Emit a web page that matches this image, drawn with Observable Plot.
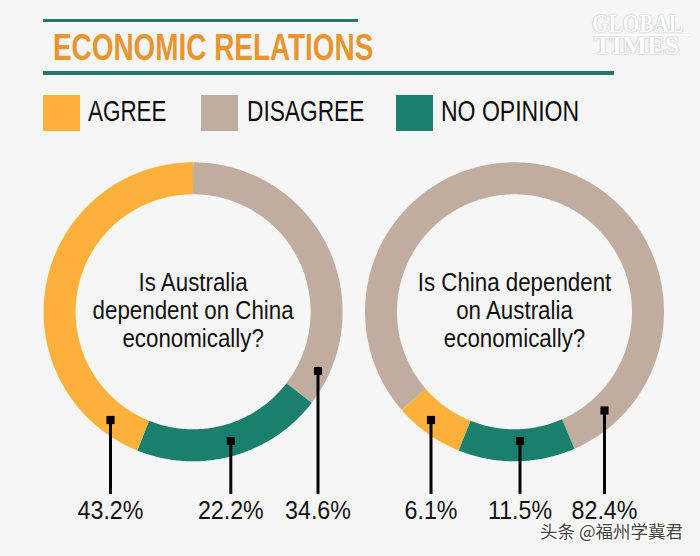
<!DOCTYPE html>
<html><head><meta charset="utf-8">
<script src="https://cdn.jsdelivr.net/npm/d3@7"></script>
<script src="https://cdn.jsdelivr.net/npm/@observablehq/plot@0.6"></script>
<style>
html,body{margin:0;padding:0;background:#f6f6f6;}
#page{position:relative;width:700px;height:556px;overflow:hidden;font-family:"Liberation Sans",sans-serif;}
#head{position:absolute;left:0;top:0;width:700px;height:140px;}
#head div{position:absolute;white-space:nowrap;}
.rule{background:#1f7a6a;left:43px;}
.sw{top:95px;width:36.5px;height:36px;}
.lg{top:92px;font-size:29.5px;line-height:38px;color:#0c0c0c;transform-origin:left center;}
#title{left:53px;top:25px;font-size:36px;line-height:46px;font-weight:700;color:#e8952f;transform-origin:left center;transform:scaleX(.775);}
.wm{font-family:"Liberation Serif",serif;color:#fff;text-shadow:0 0 2px #b5b5b5,0 0 1px #c5c5c5;font-size:25px;line-height:24px;font-weight:700;transform-origin:left center;}
#chart{position:absolute;left:0;top:140px;}
</style></head>
<body><div id="page">
<div id="head">
<div class="rule" style="top:19px;width:315px;height:3px"></div>
<div id="title">ECONOMIC RELATIONS</div>
<div class="rule" style="top:71px;width:571px;height:4px"></div>
<div class="wm" style="top:12px;left:592px;transform:scaleX(.85)">GLOBAL</div>
<div class="wm" style="top:34px;left:594px;transform:scaleX(1.06)">TIMES</div>
<div style="left:592px;top:33.5px;width:98px;height:2px;background:#fff;box-shadow:0 0 1px #c5c5c5"></div>
<div class="sw" style="left:43px;background:#fdb03a"></div><div class="lg" style="left:88px;transform:scaleX(.76)">AGREE</div>
<div class="sw" style="left:201px;background:#c1ad9f"></div><div class="lg" style="left:247px;transform:scaleX(.77)">DISAGREE</div>
<div class="sw" style="left:396px;background:#1a7f6d"></div><div class="lg" style="left:441px;transform:scaleX(.78)">NO OPINION</div>
</div>
<div id="chart"></div>
</div>
<script>
// Answers, in ring order going clockwise
const categories = ["Disagree", "No opinion", "Agree"];
const colors = ["#c1ad9f", "#1a7f6d", "#fdb03a"];
// Percentages printed on the chart
const leftLabels = ["34.6%", "22.2%", "43.2%"];
const rightLabels = ["82.4%", "11.5%", "6.1%"];
// Shares of the ring as actually drawn (percent)
const leftShares = [35.4, 20.7, 43.9];
const rightShares = [79.8, 12.7, 7.5];
// Question texts
const leftQuestion = ["Is Australia", "dependent on China", "economically?"];
const rightQuestion = ["Is China dependent", "on Australia", "economically?"];

const R = 133.5, ringWidth = 32;
const polar = (cx, cy, r, deg) => {
  const a = deg * Math.PI / 180;
  return [cx + r * Math.sin(a), cy - r * Math.cos(a)];
};
function arcs(ring, cx, cy, shares, startDeg) {
  const out = [];
  let a0 = startDeg;
  shares.forEach((s, i) => {
    const a1 = a0 + s * 3.6;
    const n = Math.ceil((a1 - a0) / 0.75);
    for (let k = 0; k <= n; k++) {
      const [x, y] = polar(cx, cy, R, a0 + (a1 - a0) * k / n);
      out.push({x, y, id: ring + i, cat: categories[i]});
    }
    a0 = a1;
  });
  return out;
}
const cL = [192.6, 311.3], cR = [514, 311.3];
const ringData = [...arcs("L", cL[0], cL[1], leftShares, 0), ...arcs("R", cR[0], cR[1], rightShares, 229)];

// Leader lines: where each starts on the ring, per printed label
const leaders = [
  {t: leftLabels[2], x: 110, y: 419.5}, {t: leftLabels[1], x: 230.3, y: 440.5}, {t: leftLabels[0], x: 317.5, y: 370.5},
  {t: rightLabels[2], x: 430.5, y: 419.5}, {t: rightLabels[1], x: 519.5, y: 440.5}, {t: rightLabels[0], x: 604, y: 410}
];
const questions = [
  ...leftQuestion.map((t, i) => ({t, x: cL[0], i})),
  ...rightQuestion.map((t, i) => ({t, x: cR[0], i}))
];
const lineY = [290, 318, 346];
const font = '"Liberation Sans",sans-serif';

const chart = Plot.plot({
  width: 700, height: 416,
  marginTop: 0, marginRight: 0, marginBottom: 0, marginLeft: 0,
  style: {background: "transparent", overflow: "visible"},
  x: {domain: [0, 700], range: [0, 700], axis: null},
  y: {domain: [140, 556], range: [0, 416], axis: null},
  color: {domain: categories, range: colors},
  marks: [
    Plot.line(ringData, {x: "x", y: "y", z: "id", stroke: "cat", strokeWidth: ringWidth, strokeLinecap: "butt", strokeLinejoin: "round"}),
    Plot.link(leaders, {x1: "x", x2: "x", y1: "y", y2: () => 493.5, stroke: "#050505", strokeWidth: 3}),
    Plot.dot(leaders, {x: "x", y: "y", symbol: "square", r: 4.6, fill: "#050505", stroke: "none"}),
    Plot.text(leaders, {x: "x", y: () => 518, text: "t", fontFamily: font, fontSize: 25.5, fill: "#111", lineAnchor: "bottom", textAnchor: "middle", className: "narrow-label"}),
    Plot.text(questions, {x: "x", y: d => lineY[d.i], text: "t", fontFamily: font, fontSize: 25.5, fill: "#111", lineAnchor: "bottom", textAnchor: "middle", className: "narrow-question"}),
    Plot.text(["头条 @福州学冀君"], {x: () => 611, y: () => 537, text: d => d, fontFamily: '"Noto Sans CJK SC",sans-serif', fontSize: 17.5, fill: "#444", stroke: "#fff", strokeWidth: 3, lineAnchor: "bottom", textAnchor: "middle"})
  ]
});
document.getElementById("chart").appendChild(chart);
// The reference face is a condensed sans: narrow the glyphs once the text can be measured.
const narrow = (sel, k) => chart.querySelectorAll(sel + " text").forEach(t => {
  t.setAttribute("textLength", (t.getComputedTextLength() * k).toFixed(1));
  t.setAttribute("lengthAdjust", "spacingAndGlyphs");
});
narrow(".narrow-label", 0.91);
narrow(".narrow-question", 0.875);
</script>
</body></html>
